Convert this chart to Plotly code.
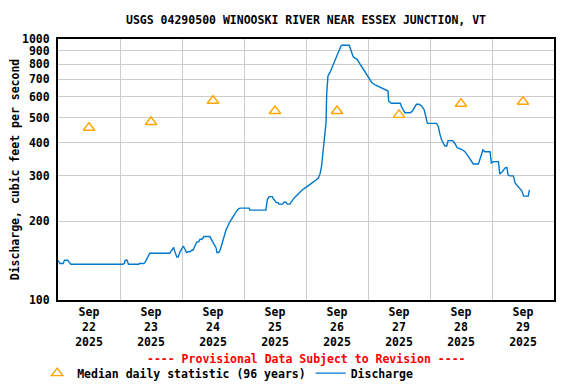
import plotly.graph_objects as go

chart_title = "USGS 04290500 WINOOSKI RIVER NEAR ESSEX JUNCTION, VT"
y_title = "Discharge, cubic feet per second"
provisional_note = "---- Provisional Data Subject to Revision ----"

# Median daily statistic (96 years), plotted at noon of each day
median_dates = ["2025-09-22 12:00", "2025-09-23 12:00", "2025-09-24 12:00", "2025-09-25 12:00",
                "2025-09-26 12:00", "2025-09-27 12:00", "2025-09-28 12:00", "2025-09-29 12:00"]
median_values = [457, 481, 580, 530, 530, 512, 565, 575]

# Discharge (cfs)
q_times = [
    "2025-09-22 00:00", "2025-09-22 00:45", "2025-09-22 02:00", "2025-09-22 02:30", "2025-09-22 03:45",
    "2025-09-22 04:30", "2025-09-22 05:00", "2025-09-23 01:00", "2025-09-23 01:45", "2025-09-23 02:00",
    "2025-09-23 02:45", "2025-09-23 03:15", "2025-09-23 07:15", "2025-09-23 07:30", "2025-09-23 09:15",
    "2025-09-23 09:45", "2025-09-23 10:00", "2025-09-23 10:30", "2025-09-23 10:45", "2025-09-23 11:30",
    "2025-09-23 19:15", "2025-09-23 20:00", "2025-09-23 20:45", "2025-09-23 21:15", "2025-09-23 22:00",
    "2025-09-23 22:30", "2025-09-23 23:15", "2025-09-24 00:30", "2025-09-24 01:45", "2025-09-24 02:15",
    "2025-09-24 03:00", "2025-09-24 03:45", "2025-09-24 04:15", "2025-09-24 05:00", "2025-09-24 05:45",
    "2025-09-24 06:30", "2025-09-24 07:00", "2025-09-24 07:45", "2025-09-24 08:30", "2025-09-24 10:45",
    "2025-09-24 11:30", "2025-09-24 12:15", "2025-09-24 13:15", "2025-09-24 13:30", "2025-09-24 14:15",
    "2025-09-24 14:45", "2025-09-24 15:30", "2025-09-24 16:15", "2025-09-24 17:00", "2025-09-24 18:15",
    "2025-09-24 19:00", "2025-09-24 20:15", "2025-09-24 21:00", "2025-09-24 22:00", "2025-09-24 22:30",
    "2025-09-25 02:00", "2025-09-25 02:15", "2025-09-25 08:30", "2025-09-25 09:00", "2025-09-25 09:45",
    "2025-09-25 11:00", "2025-09-25 11:15", "2025-09-25 12:00", "2025-09-25 12:30", "2025-09-25 13:15",
    "2025-09-25 13:30", "2025-09-25 15:00", "2025-09-25 15:30", "2025-09-25 16:15", "2025-09-25 16:45",
    "2025-09-25 17:45", "2025-09-25 18:15", "2025-09-25 19:00", "2025-09-25 20:00", "2025-09-25 21:15",
    "2025-09-25 22:30", "2025-09-26 00:00", "2025-09-26 02:00", "2025-09-26 03:00", "2025-09-26 04:45",
    "2025-09-26 05:30", "2025-09-26 06:00", "2025-09-26 06:15", "2025-09-26 06:45", "2025-09-26 07:00",
    "2025-09-26 07:15", "2025-09-26 07:45", "2025-09-26 08:00", "2025-09-26 08:30", "2025-09-26 09:15",
    "2025-09-26 10:00", "2025-09-26 10:45", "2025-09-26 11:30", "2025-09-26 12:30", "2025-09-26 13:15",
    "2025-09-26 13:45", "2025-09-26 16:45", "2025-09-26 17:30", "2025-09-26 18:15", "2025-09-26 19:45",
    "2025-09-26 21:00", "2025-09-26 22:00", "2025-09-26 23:15", "2025-09-27 00:30", "2025-09-27 01:30",
    "2025-09-27 03:00", "2025-09-27 04:45", "2025-09-27 06:30", "2025-09-27 07:45", "2025-09-27 08:00",
    "2025-09-27 09:00", "2025-09-27 12:30", "2025-09-27 13:00", "2025-09-27 14:15", "2025-09-27 16:15",
    "2025-09-27 17:00", "2025-09-27 17:30", "2025-09-27 18:45", "2025-09-27 19:45", "2025-09-27 20:45",
    "2025-09-27 21:45", "2025-09-27 22:15", "2025-09-27 23:00", "2025-09-28 02:30", "2025-09-28 03:15",
    "2025-09-28 03:45", "2025-09-28 04:30", "2025-09-28 05:45", "2025-09-28 06:30", "2025-09-28 07:00",
    "2025-09-28 08:45", "2025-09-28 09:45", "2025-09-28 10:30", "2025-09-28 12:15", "2025-09-28 13:30",
    "2025-09-28 14:45", "2025-09-28 16:00", "2025-09-28 16:45", "2025-09-28 18:45", "2025-09-28 19:30",
    "2025-09-28 20:30", "2025-09-28 21:15", "2025-09-28 23:15", "2025-09-28 23:45", "2025-09-29 00:30",
    "2025-09-29 02:30", "2025-09-29 03:00", "2025-09-29 04:00", "2025-09-29 05:00", "2025-09-29 05:45",
    "2025-09-29 06:15", "2025-09-29 07:00", "2025-09-29 08:15", "2025-09-29 09:00", "2025-09-29 10:15",
    "2025-09-29 11:30", "2025-09-29 12:15", "2025-09-29 14:00", "2025-09-29 14:30",
]
q_values = [
    142, 138, 138, 142, 142,
    138, 137, 137, 138, 142,
    142, 137, 137, 138, 138,
    140, 142, 144, 146, 151,
    151, 155, 159, 153, 146,
    146, 153, 161, 152, 153,
    153, 155, 155, 161, 167,
    167, 171, 171, 175, 175,
    170, 165, 158, 152, 152,
    155, 165, 175, 185, 197,
    203, 212, 218, 224, 225,
    225, 221, 221, 242, 249,
    249, 245, 240, 236, 236,
    233, 233, 237, 237, 233,
    233, 238, 243, 249, 256,
    264, 270, 278, 284, 293,
    306, 324, 344, 376, 400,
    448, 478, 614, 722, 743,
    776, 811, 848, 886, 926,
    946, 946, 900, 855, 836,
    800, 765, 733, 701, 680,
    665, 651, 642, 632, 579,
    567, 567, 550, 522, 522,
    527, 538, 562, 562, 554,
    535, 511, 475, 475, 461,
    435, 410, 389, 389, 408,
    408, 396, 383, 378, 370,
    356, 339, 332, 332, 349,
    376, 370, 370, 334, 339,
    339, 304, 310, 320, 322,
    301, 299, 299, 280, 270,
    262, 250, 250, 264,
]

# Axis ticks
x_label_dates = median_dates
x_label_text = ["Sep<br>22<br>2025", "Sep<br>23<br>2025", "Sep<br>24<br>2025", "Sep<br>25<br>2025",
                "Sep<br>26<br>2025", "Sep<br>27<br>2025", "Sep<br>28<br>2025", "Sep<br>29<br>2025"]
x_grid_dates = ["2025-09-23", "2025-09-24", "2025-09-25", "2025-09-26",
                "2025-09-27", "2025-09-28", "2025-09-29"]
x_range = ["2025-09-22 00:00", "2025-09-30 00:00"]
y_tick_values = [100, 200, 300, 400, 500, 600, 700, 800, 900, 1000]
y_tick_text = ["100", "200", "300", "400", "500", "600", "700", "800", "900", "1000"]

FONT = "DejaVu Sans Mono"
fs = 11.5

# the page body adds an 8px margin, so the figure is 8px smaller than the window
W, H = 568, 376

fig = go.Figure()
fig.add_trace(go.Scatter(
    x=median_dates, y=median_values, mode="markers",
    name="Median daily statistic (96 years)",
    marker=dict(symbol="triangle-up-open", size=10, color="#FFA500", line=dict(width=1.4, color="#FFA500")),
))
fig.add_trace(go.Scatter(
    x=q_times, y=q_values, mode="lines", name="Discharge",
    line=dict(color="#0077CC", width=1.4),
))

fig.update_layout(
    width=W, height=H,
    margin=dict(l=50, r=22, t=31, b=84, autoexpand=False),
    paper_bgcolor="white", plot_bgcolor="white",
    font=dict(family=FONT, size=fs, color="black", weight="bold"),
    title=dict(text=chart_title, x=0.5, xref="paper", y=1 - 12 / H, yref="container",
               yanchor="middle", xanchor="center",
               font=dict(family=FONT, size=fs, color="black", weight="bold")),
    showlegend=True,
    legend=dict(orientation="h", x=-0.042, xanchor="left", y=-0.28, yanchor="middle",
                yref="paper", bgcolor="rgba(0,0,0,0)", borderwidth=0,
                font=dict(family=FONT, size=fs, color="black", weight="bold"),
                itemwidth=30, tracegroupgap=0),
    annotations=[dict(text=provisional_note, xref="paper", yref="paper", x=0.5, y=-0.226,
                      xanchor="center", yanchor="middle", showarrow=False,
                      font=dict(family=FONT, size=fs, color="red", weight="bold"))],
)

fig.update_xaxes(
    type="date", range=x_range,
    tickmode="array", tickvals=x_label_dates, ticktext=x_label_text,
    showgrid=False, ticks="", tickangle=0,
    tickfont=dict(family=FONT, size=fs, color="black", weight="bold"),
    minor=dict(tickmode="array", tickvals=x_grid_dates, showgrid=True,
               gridcolor="#CCCCCC", gridwidth=1, ticks=""),
    showline=True, mirror=True, linecolor="black", linewidth=2,
    zeroline=False,
)
fig.update_yaxes(
    type="log", range=[2, 3],
    tickmode="array", tickvals=y_tick_values, ticktext=y_tick_text,
    showgrid=True, gridcolor="#CCCCCC", gridwidth=1, ticks="",
    tickfont=dict(family=FONT, size=fs, color="black", weight="bold"),
    ticklabelstandoff=4,
    title=dict(text=y_title, standoff=4, font=dict(family=FONT, size=fs, color="black", weight="bold")),
    showline=True, mirror=True, linecolor="black", linewidth=2,
    zeroline=False,
)

fig.write_html("out.html")
